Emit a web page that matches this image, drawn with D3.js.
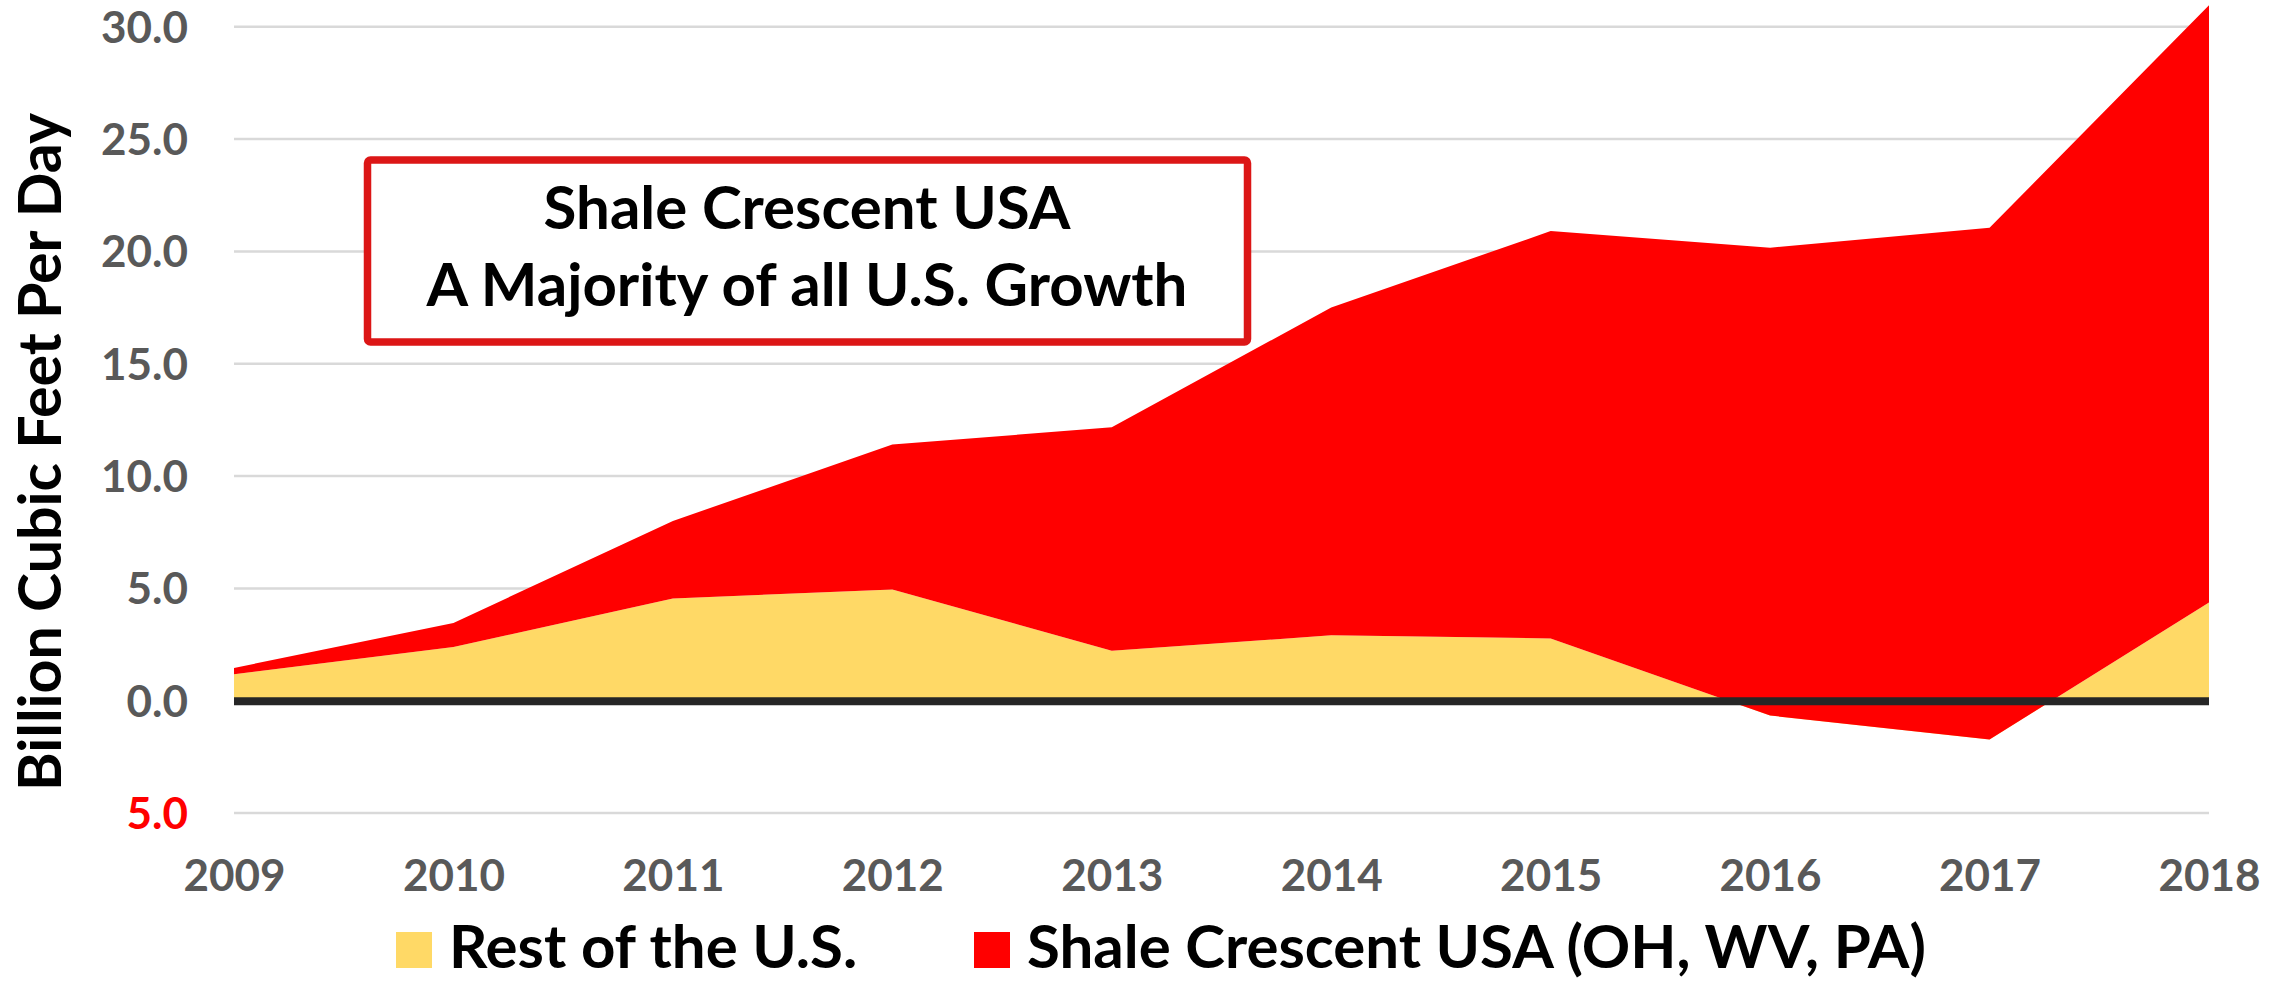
<!DOCTYPE html>
<html>
<head>
<meta charset="utf-8">
<script src="https://cdn.jsdelivr.net/npm/d3@7"></script>
<style>
  body { margin: 0; background: #fff; }
  text { font-family: Lato, "Open Sans", sans-serif; font-weight: 700; }
</style>
</head>
<body>
<svg id="chart" width="2287" height="982"></svg>
<script>
// data (billion cubic feet per day, growth since 2008)
const years = [2009, 2010, 2011, 2012, 2013, 2014, 2015, 2016, 2017, 2018];
const restOfUS = [1.16, 2.37, 4.53, 4.93, 2.20, 2.89, 2.75, -0.68, -1.75, 4.35];
const shaleCrescent = [0.28, 1.07, 3.45, 6.45, 9.95, 14.59, 18.13, 20.82, 22.78, 26.58];
const yTicks = [-5, 0, 5, 10, 15, 20, 25, 30];
const seriesNames = ["Rest of the U.S.", "Shale Crescent USA (OH, WV, PA)"];
const seriesColors = ["#FFD966", "#FF0000"];
const boxLines = ["Shale Crescent USA", "A Majority of all U.S. Growth"];

let svg = d3.select("#chart");

let x = d3.scaleLinear()
    .domain([2009, 2018])
    .range([234, 2209]);

let y = d3.scaleLinear()
    .domain([-5, 30])
    .range([812.6, 26.2]);

// gridlines + y labels
let yAxis = d3.axisLeft(y)
    .tickValues(yTicks)
    .tickSize(-(x.range()[1] - x.range()[0]))
    .tickPadding(46)
    .tickFormat(d => Math.abs(d).toFixed(1));

let gy = svg.append("g")
    .attr("class", "y-axis")
    .attr("transform", `translate(${x.range()[0]}, 0)`)
    .call(yAxis);
gy.select(".domain").remove();
gy.selectAll(".tick line")
    .style("stroke", "#D9D9D9")
    .style("stroke-width", 2.5);
gy.selectAll(".tick text")
    .style("font-size", "44px")
    .style("fill", d => d < 0 ? "#FF0000" : "#595959")
    .attr("dy", "0.36em");

// stacked areas (Excel style: each series sits on the previous one)
let rows = years.map((yr, i) => ({ year: yr, rest: restOfUS[i], shale: shaleCrescent[i] }));
let stacked = d3.stack()
    .keys(["rest", "shale"])
    .offset(d3.stackOffsetNone)(rows);

let area = d3.area()
    .x(d => x(d.data.year))
    .y0(d => y(d[0]))
    .y1(d => y(d[1]));

svg.append("g")
    .selectAll("path")
    .data(stacked)
    .enter()
    .append("path")
    .attr("d", area)
    .style("fill", (d, i) => seriesColors[i]);

// zero line
svg.append("line")
    .attr("x1", x.range()[0])
    .attr("x2", x.range()[1])
    .attr("y1", y(0) + 1)
    .attr("y2", y(0) + 1)
    .style("stroke", "#262626")
    .style("stroke-width", 8);

// x labels
let xAxis = d3.axisBottom(x)
    .tickValues(years)
    .tickSize(0)
    .tickFormat(d3.format("d"));

let gx = svg.append("g")
    .attr("class", "x-axis")
    .attr("transform", `translate(0, ${y(-5)})`)
    .call(xAxis);
gx.select(".domain").remove();
gx.selectAll(".tick text")
    .attr("y", 78)
    .attr("dy", 0)
    .style("font-size", "44px")
    .style("fill", "#595959");

// y axis title
svg.append("text")
    .attr("transform", "translate(61, 452) rotate(-90)")
    .attr("text-anchor", "middle")
    .style("font-size", "59px")
    .style("fill", "#000")
    .text("Billion Cubic Feet Per Day");

// callout box
svg.append("rect")
    .attr("x", 367.5)
    .attr("y", 160)
    .attr("width", 880)
    .attr("height", 182)
    .attr("rx", 3)
    .style("fill", "#fff")
    .style("stroke", "#DC1616")
    .style("stroke-width", 7.5);

svg.selectAll("text.box-line")
    .data(boxLines)
    .enter()
    .append("text")
    .attr("class", "box-line")
    .attr("x", 807)
    .attr("y", (d, i) => i == 0 ? 229 : 306)
    .attr("text-anchor", "middle")
    .style("font-size", "60px")
    .style("fill", "#000")
    .text(d => d);

// legend
let legendX = [396, 974];
let legend = svg.selectAll("g.legend-item")
    .data(seriesNames)
    .enter()
    .append("g")
    .attr("class", "legend-item")
    .attr("transform", (d, i) => `translate(${legendX[i]}, 932)`);

legend.append("rect")
    .attr("width", 36)
    .attr("height", 36)
    .style("fill", (d, i) => seriesColors[i]);

legend.append("text")
    .attr("x", 53)
    .attr("y", 36)
    .style("font-size", "60px")
    .style("fill", "#000")
    .text(d => d);
</script>
</body>
</html>
